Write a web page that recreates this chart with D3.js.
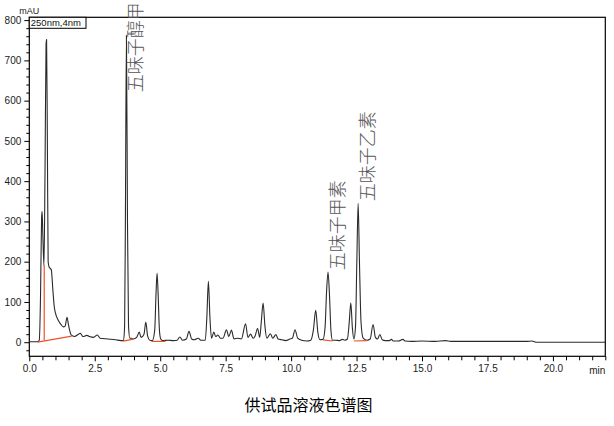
<!DOCTYPE html>
<html>
<head>
<meta charset="utf-8">
<script src="https://cdn.jsdelivr.net/npm/d3@7/dist/d3.min.js"></script>
<style>
  html, body { margin: 0; padding: 0; background: #fff; }
  svg { display: block; }
</style>
</head>
<body>
<svg id="chart" width="614" height="426"></svg>
<script>
// ---------------- data ----------------
const times = [
  0.00, 0.30, 0.38, 0.43, 0.47, 0.49, 0.52, 0.56, 0.60, 0.64, 0.66, 0.69, 0.72, 0.76, 0.84,
  0.90, 0.95, 1.00, 1.10, 1.20, 1.30, 1.37, 1.44, 1.50, 1.60, 1.72, 1.95, 2.05, 2.20, 2.30,
  2.45, 2.60, 2.70, 3.00, 3.30, 3.50, 3.60, 3.64, 3.67, 3.71, 3.75, 3.79, 3.84, 3.90, 3.97,
  4.10, 4.20, 4.27, 4.38, 4.45, 4.52, 4.60, 4.70, 4.79, 4.84, 4.88, 4.92, 4.97, 5.02, 5.10,
  5.30, 5.50, 5.65, 5.75, 5.85, 6.00, 6.10, 6.20, 6.30, 6.45, 6.55, 6.72, 6.78, 6.84, 6.90,
  6.96, 7.05, 7.12, 7.20, 7.30, 7.40, 7.53, 7.62, 7.72, 7.82, 7.95, 8.10, 8.26, 8.35, 8.45,
  8.55, 8.62, 8.72, 8.80, 8.86, 8.93, 9.00, 9.07, 9.21, 9.30, 9.42, 9.50, 9.65, 9.80, 9.95,
  10.05, 10.15, 10.25, 10.40, 10.60, 10.75, 10.85, 10.94, 11.02, 11.10, 11.22, 11.30, 11.35, 11.41, 11.47,
  11.52, 11.58, 11.70, 11.85, 11.95, 12.05, 12.15, 12.22, 12.28, 12.34, 12.40, 12.46, 12.51, 12.56, 12.61,
  12.67, 12.75, 12.90, 13.02, 13.13, 13.22, 13.30, 13.39, 13.48, 13.60, 13.75, 13.83, 13.90, 14.10, 14.27,
  14.35, 14.60, 15.00, 15.50, 15.90, 16.10, 17.00, 18.00, 19.00, 19.20, 19.35, 22.00
];
const signal = [
  1, 1, 5, 120, 310, 325, 260, 190, 420, 740, 752, 500, 200, 186, 180,
  130, 90, 72, 55, 45, 38, 40, 62, 42, 18, 14, 22, 14, 17, 14,
  12, 18, 10, 8, 6, 4, 4, 40, 300, 762, 300, 40, 10, 10, 8,
  12, 25, 12, 20, 50, 15, 5, 4, 30, 120, 172, 120, 30, 8, 4,
  5, 4, 5, 13, 5, 8, 27, 8, 6, 10, 5, 5, 60, 151, 60,
  10, 25, 14, 18, 10, 10, 31, 14, 30, 8, 10, 8, 46, 12, 20,
  10, 15, 34, 12, 50, 97, 40, 10, 21, 10, 19, 8, 6, 4, 8,
  10, 31, 10, 5, 3, 5, 30, 79, 25, 6, 7, 40, 120, 174, 110,
  30, 5, 5, 4, 7, 5, 8, 50, 98, 35, 8, 40, 200, 345, 200,
  50, 10, 5, 8, 44, 12, 8, 19, 6, 4, 4, 7, 3, 3, 7,
  3, 2, 3, 2, 4, 2, 2, 2, 2, 3, 0, 0
];
// integration baselines (red)
const baselines = [
  [[0.32, 0], [1.62, 15]],
  [[0.57, 4], [0.57, 191]],
  [[3.59, 2.5], [3.97, 7.5]],
  [[4.67, 2], [5.20, 2]],
  [[11.22, 6], [11.58, 3]],
  [[12.40, 3], [12.90, 4]]
];
const peakNames = ["五味子醇甲", "五味子甲素", "五味子乙素"];
const peakTimes = [3.71, 11.41, 12.56];
const peakHeights = [762, 174, 345];

const xMajor = [0, 2.5, 5, 7.5, 10, 12.5, 15, 17.5, 20];
const yMajor = [0, 100, 200, 300, 400, 500, 600, 700, 800];
const xDomain = [0, 22];
const yDomain = [-35, 807];

const title = "供试品溶液色谱图";
const yUnit = "mAU";
const xUnit = "min";
const detector = "250nm,4nm";

// ---------------- layout ----------------
const L = 29.3, R = 605.3, T = 17.3, B = 356.3;
const svg = d3.select("#chart");

const x = d3.scaleLinear().domain(xDomain).range([L, R]);
const y = d3.scaleLinear().domain(yDomain).range([B, T]);

// frame
svg.append("rect")
  .attr("x", L).attr("y", T).attr("width", R - L).attr("height", B - T)
  .attr("fill", "none").attr("stroke", "#000").attr("stroke-width", 1.2);

// axes
const fontAxis = "Liberation Sans, Arial, sans-serif";
const xMinor = d3.range(0, 22.01, 0.5).filter(v => !xMajor.includes(v));
const yMinor = d3.range(-20, 801, 20).filter(v => !yMajor.includes(v));

svg.append("g").attr("transform", `translate(0,${B})`)
  .call(d3.axisBottom(x).tickValues(xMajor).tickFormat(d3.format(".1f")).tickSize(5).tickPadding(4));
svg.append("g").attr("transform", `translate(0,${B})`)
  .call(d3.axisBottom(x).tickValues(xMinor).tickFormat("").tickSize(4));
svg.append("g").attr("transform", `translate(${L},0)`)
  .call(d3.axisLeft(y).tickValues(yMajor).tickFormat(d3.format("d")).tickSize(5).tickPadding(3));
svg.append("g").attr("transform", `translate(${L},0)`)
  .call(d3.axisLeft(y).tickValues(yMinor).tickFormat("").tickSize(3));
svg.selectAll(".domain").remove();
svg.selectAll(".tick line").attr("stroke", "#000");
svg.selectAll(".tick text").attr("font-family", fontAxis).attr("font-size", 10).attr("fill", "#222");

svg.append("text").attr("x", L).attr("y", 14).attr("text-anchor", "middle")
  .attr("font-family", fontAxis).attr("font-size", 9).attr("fill", "#222").text(yUnit);
svg.append("text").attr("x", R).attr("y", 373.5).attr("text-anchor", "end")
  .attr("font-family", fontAxis).attr("font-size", 10).attr("fill", "#222").text(xUnit);

// detector box
svg.append("rect").attr("x", L).attr("y", T).attr("width", 56.7).attr("height", 11)
  .attr("fill", "#fff").attr("stroke", "#000").attr("stroke-width", 1);
svg.append("text").attr("x", L + 1.5).attr("y", T + 8.7)
  .attr("font-family", fontAxis).attr("font-size", 9.5).attr("fill", "#111").text(detector);

// trace
const pts = times.map((t, i) => [t, signal[i]]);
const line = d3.line().x(d => x(d[0])).y(d => y(d[1])).curve(d3.curveMonotoneX);
svg.append("path").datum(pts).attr("d", line)
  .attr("fill", "none").attr("stroke", "#2a2a2a").attr("stroke-width", 1.1)
  .attr("stroke-linejoin", "round");

// baselines
const bl = d3.line().x(d => x(d[0])).y(d => y(d[1]));
svg.append("g").selectAll("path").data(baselines).join("path")
  .attr("d", bl).attr("fill", "none").attr("stroke", "#f0502a").attr("stroke-width", 1.2);

// peak labels
const fs = 18;
peakNames.forEach((name, i) => {
  const px = x(peakTimes[i]) + 7.5;
  const py = Math.max(y(peakHeights[i]) - 2, T + 4 * fs + 3);
  svg.append("text")
    .attr("transform", `translate(${px},${py}) rotate(-90)`)
    .attr("dominant-baseline", "central")
    .attr("font-family", "Noto Sans CJK SC, sans-serif").attr("font-weight", 300)
    .attr("font-size", fs).attr("fill", "#555").text(name);
});

// title
svg.append("text").attr("x", 308.5).attr("y", 404).attr("text-anchor", "middle")
  .attr("dominant-baseline", "central")
  .attr("font-family", "Noto Sans CJK SC, sans-serif").attr("font-size", 16).attr("fill", "#000")
  .text(title);
</script>
</body>
</html>
